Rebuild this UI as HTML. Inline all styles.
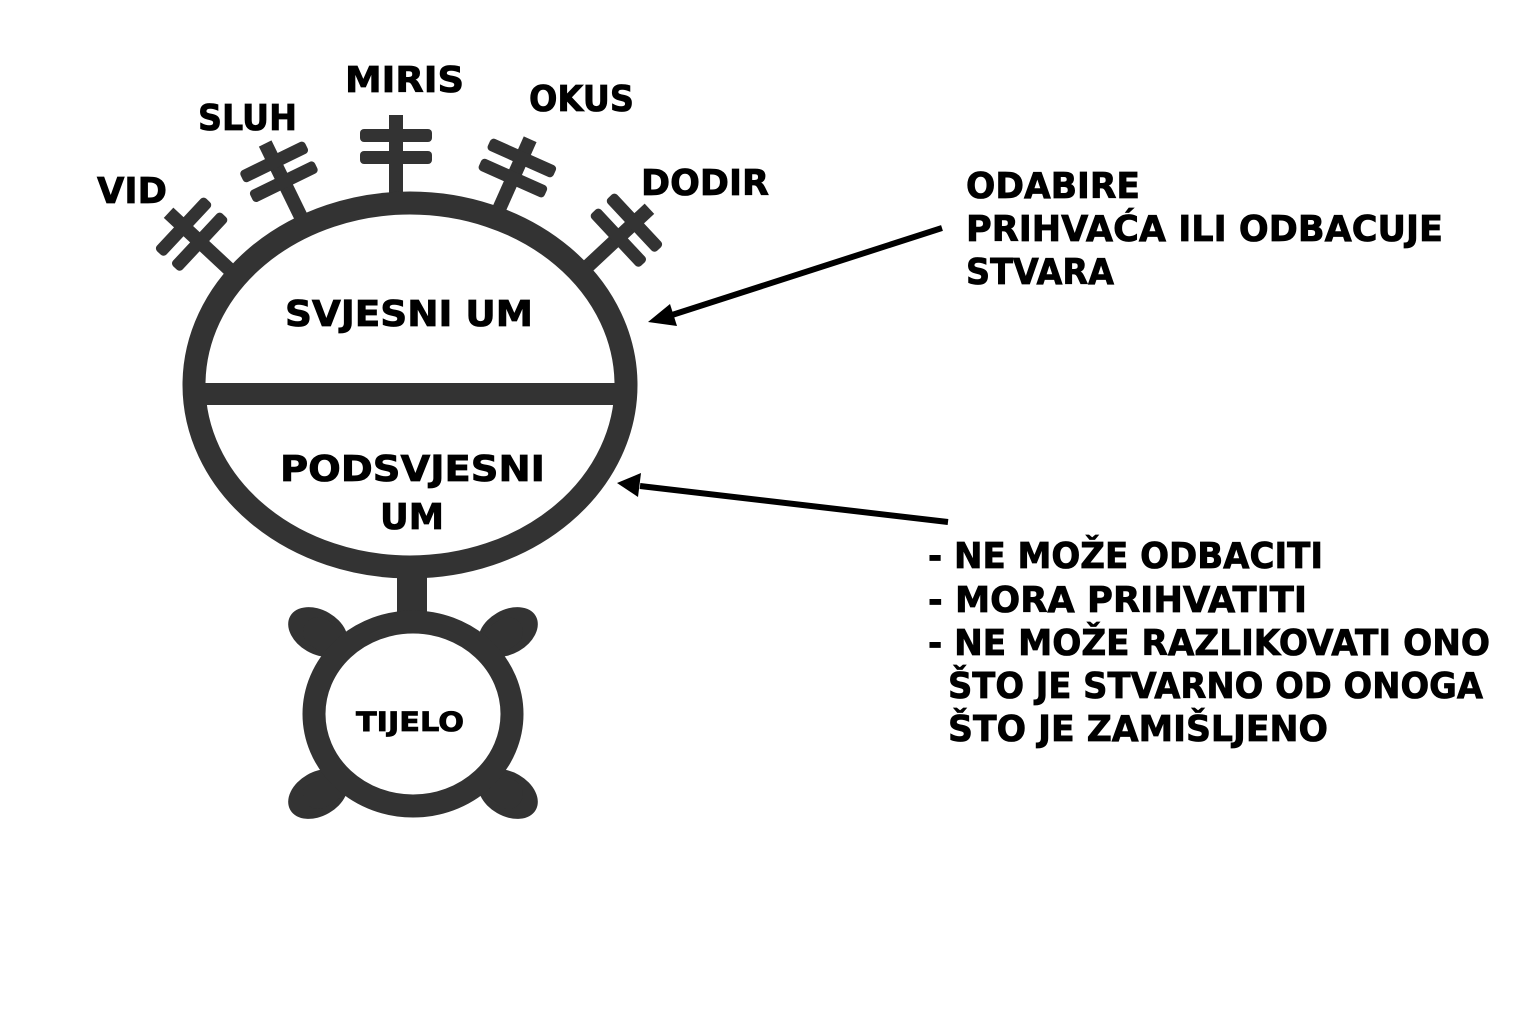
<!DOCTYPE html>
<html><head><meta charset="utf-8"><style>html,body{margin:0;padding:0;background:#fff}svg{display:block}</style></head>
<body>
<svg width="1536" height="1024" viewBox="0 0 1536 1024" xmlns="http://www.w3.org/2000/svg">
<defs>
<g id="ant" fill="#333">
<rect x="-7" y="-84" width="14" height="90"/>
<rect x="-36" y="-70" width="72" height="13" rx="4"/>
<rect x="-36" y="-48" width="72" height="13" rx="4"/>
</g>
</defs>
<rect width="1536" height="1024" fill="#fff"/>
<g fill="#333">
<use href="#ant" transform="translate(396,199)"/>
<use href="#ant" transform="translate(302,219) rotate(-26)"/>
<use href="#ant" transform="translate(496,216) rotate(24)"/>
<use href="#ant" transform="translate(230,270) rotate(-47)"/>
<use href="#ant" transform="translate(588,266) rotate(47)"/>
</g>
<ellipse cx="410" cy="385" rx="216" ry="182" fill="#fff" stroke="#333" stroke-width="23"/>
<rect x="196" y="383" width="430" height="22" fill="#333"/>
<rect x="397" y="575" width="30" height="45" fill="#333"/>
<g fill="#333">
<ellipse cx="0" cy="0" rx="32" ry="22" transform="translate(318,632) rotate(30)"/>
<ellipse cx="0" cy="0" rx="32" ry="22" transform="translate(508,632) rotate(-30)"/>
<ellipse cx="0" cy="0" rx="32" ry="22" transform="translate(318,794) rotate(-30)"/>
<ellipse cx="0" cy="0" rx="32" ry="22" transform="translate(508,794) rotate(30)"/>
</g>
<g stroke="#333" stroke-width="30" stroke-linecap="round">
<line x1="318" y1="632" x2="360" y2="660"/>
<line x1="508" y1="632" x2="468" y2="660"/>
<line x1="318" y1="794" x2="360" y2="768"/>
<line x1="508" y1="794" x2="468" y2="768"/>
</g>
<ellipse cx="413" cy="714" rx="99" ry="92" fill="#fff" stroke="#333" stroke-width="23"/>
<g stroke="#000" stroke-width="6">
<line x1="942" y1="228" x2="672" y2="315"/>
<line x1="948" y1="522" x2="640" y2="486"/>
</g>
<polygon points="648,322 670,304 677,326" fill="#000"/>
<polygon points="617,483 641,473 638,497" fill="#000"/>
<g font-family="'DejaVu Sans','Liberation Sans',sans-serif" font-weight="bold" font-size="36" fill="#000" stroke="#000" stroke-width="0.8">
<text x="97" y="203" textLength="70" lengthAdjust="spacingAndGlyphs">VID</text>
<text x="198" y="130" textLength="99" lengthAdjust="spacingAndGlyphs">SLUH</text>
<text x="345" y="92" textLength="119" lengthAdjust="spacingAndGlyphs">MIRIS</text>
<text x="529" y="111" textLength="105" lengthAdjust="spacingAndGlyphs">OKUS</text>
<text x="641" y="195" textLength="128" lengthAdjust="spacingAndGlyphs">DODIR</text>
<text x="285" y="326" textLength="248" lengthAdjust="spacingAndGlyphs">SVJESNI UM</text>
<text x="280" y="481" textLength="265" lengthAdjust="spacingAndGlyphs">PODSVJESNI</text>
<text x="380" y="529" textLength="64" lengthAdjust="spacingAndGlyphs">UM</text>
<text x="356" y="731" font-size="27" textLength="108" lengthAdjust="spacingAndGlyphs">TIJELO</text>
<text x="966" y="198" textLength="174" lengthAdjust="spacingAndGlyphs">ODABIRE</text>
<text x="966" y="241" textLength="477" lengthAdjust="spacingAndGlyphs">PRIHVAĆA ILI ODBACUJE</text>
<text x="966" y="284" textLength="148" lengthAdjust="spacingAndGlyphs">STVARA</text>
<text x="928" y="568" textLength="395" lengthAdjust="spacingAndGlyphs">- NE MOŽE ODBACITI</text>
<text x="928" y="612" textLength="379" lengthAdjust="spacingAndGlyphs">- MORA PRIHVATITI</text>
<text x="928" y="655" textLength="562" lengthAdjust="spacingAndGlyphs">- NE MOŽE RAZLIKOVATI ONO</text>
<text x="948" y="698" textLength="535" lengthAdjust="spacingAndGlyphs">ŠTO JE STVARNO OD ONOGA</text>
<text x="948" y="741" textLength="380" lengthAdjust="spacingAndGlyphs">ŠTO JE ZAMIŠLJENO</text>
</g>
</svg>
</body></html>
